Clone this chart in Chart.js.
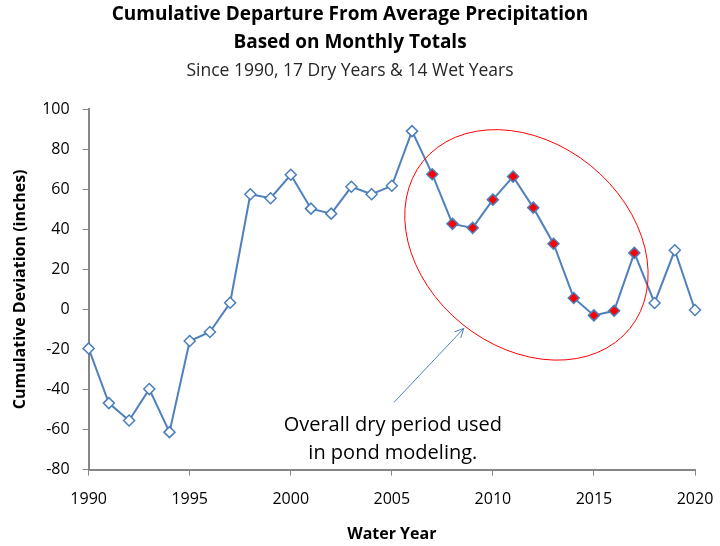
<!DOCTYPE html>
<html>
<head>
<meta charset="utf-8">
<script src="https://cdn.jsdelivr.net/npm/chart.js@4"></script>
<style>
  html, body { margin: 0; padding: 0; background: #fff; }
  #wrap { width: 720px; height: 546px; }
</style>
</head>
<body>
<div id="wrap"><canvas id="myChart"></canvas></div>
<script>
// water years and cumulative departure (inches)
const years = [1990, 1991, 1992, 1993, 1994, 1995, 1996, 1997, 1998, 1999,
  2000, 2001, 2002, 2003, 2004, 2005, 2006, 2007, 2008, 2009,
  2010, 2011, 2012, 2013, 2014, 2015, 2016, 2017, 2018, 2019, 2020];
const departure = [-19.5, -46.8, -55.5, -39.8, -61.3, -15.8, -11.3, 3.3, 57.5, 55.5,
  67.2, 50.3, 47.8, 61.2, 57.5, 61.7, 89, 67.5, 42.7, 40.7,
  54.8, 66.3, 50.8, 32.8, 5.7, -3, -0.7, 28.2, 3.2, 29.5, -0.3];
// years highlighted as the dry period used in pond modeling
const dryPeriod = [2007, 2008, 2009, 2010, 2011, 2012, 2013, 2014, 2015, 2016, 2017];
const xTicks = [1990, 1995, 2000, 2005, 2010, 2015, 2020];
const yTicks = [-80, -60, -40, -20, 0, 20, 40, 60, 80, 100];

const points = years.map((yr, i) => ({ x: yr, y: departure[i] }));
const fills = years.map(yr => dryPeriod.includes(yr) ? "#ff0000" : "#ffffff");

const axisGray = "#868686";
const font = "'Open Sans', 'Noto Sans', sans-serif";

// red ellipse, arrow and note drawn on top of the plot
const notes = {
  id: "notes",
  afterDraw(chart) {
    const { ctx, scales: { x, y } } = chart;
    ctx.save();

    // ellipse around the dry period
    const cx = x.getPixelForValue(2011.66);
    const cy = y.getPixelForValue(32.2);
    ctx.strokeStyle = "#ff0000";
    ctx.lineWidth = 1;
    ctx.beginPath();
    ctx.ellipse(cx, cy, 133, 102, 0.68, 0, Math.PI * 2);
    ctx.stroke();

    // arrow pointing at the ellipse
    const x1 = x.getPixelForValue(2005.1), y1 = y.getPixelForValue(-46.5);
    const x2 = x.getPixelForValue(2008.56), y2 = y.getPixelForValue(-9.5);
    ctx.strokeStyle = "#4f81bd";
    ctx.beginPath();
    ctx.moveTo(x1, y1);
    ctx.lineTo(x2, y2);
    const a = Math.atan2(y2 - y1, x2 - x1);
    ctx.moveTo(x2, y2);
    ctx.lineTo(x2 - 10 * Math.cos(a - 0.45), y2 - 10 * Math.sin(a - 0.45));
    ctx.moveTo(x2, y2);
    ctx.lineTo(x2 - 10 * Math.cos(a + 0.45), y2 - 10 * Math.sin(a + 0.45));
    ctx.stroke();

    ctx.fillStyle = "#000";
    ctx.font = "20px " + font;
    ctx.textAlign = "center";
    ctx.textBaseline = "middle";
    const tx = x.getPixelForValue(2005.05);
    ctx.fillText("Overall dry period used", tx, y.getPixelForValue(-58));
    ctx.fillText("in pond modeling.", tx, y.getPixelForValue(-72));
    ctx.restore();
  }
};

document.addEventListener("DOMContentLoaded", () => {
  const ctx = document.getElementById("myChart");
  new Chart(ctx, {
    type: "line",
    data: {
      datasets: [{
        data: points,
        borderColor: "#4f81bd",
        borderWidth: 2,
        pointStyle: "rectRot",
        pointRadius: 5.5,
        pointBorderWidth: 1.5,
        pointBorderColor: "#4a7ebb",
        pointBackgroundColor: fills,
        tension: 0,
        clip: false
      }]
    },
    options: {
      responsive: true,
      maintainAspectRatio: false,
      animation: false,
      layout: { padding: { left: 5, right: 25, top: 0, bottom: 2 } },
      plugins: {
        legend: { display: false },
        tooltip: { enabled: false },
        title: {
          display: true,
          text: ["Cumulative Departure From Average Precipitation", "Based on Monthly Totals"],
          color: "#000",
          font: { family: font, size: 19, weight: "bold", lineHeight: 1.45 },
          padding: { top: 1, bottom: 2 }
        },
        subtitle: {
          display: true,
          text: "Since 1990, 17 Dry Years & 14 Wet Years",
          color: "#262626",
          font: { family: font, size: 17.5 },
          padding: { top: 2, bottom: 28 }
        }
      },
      scales: {
        x: {
          type: "linear",
          min: 1990,
          max: 2020,
          afterBuildTicks: axis => { axis.ticks = xTicks.map(v => ({ value: v })); },
          // let the layout padding alone decide the right edge of the plot
          afterFit: axis => { axis.paddingRight = 0; },
          grid: { display: true, drawOnChartArea: false, drawTicks: true, tickLength: 6, color: axisGray },
          border: { color: axisGray, width: 2 },
          ticks: { color: "#000", font: { family: font, size: 16 }, padding: 14, callback: v => String(v) },
          title: { display: true, text: "Water Year", color: "#000", font: { family: font, size: 16, weight: "bold" }, padding: { top: 2, bottom: 0 } }
        },
        y: {
          min: -80,
          max: 100,
          afterBuildTicks: axis => { axis.ticks = yTicks.map(v => ({ value: v })); },
          grid: { display: true, drawOnChartArea: false, drawTicks: true, tickLength: 6, color: axisGray },
          border: { color: axisGray, width: 2 },
          ticks: { color: "#000", font: { family: font, size: 16 }, padding: 13 },
          title: { display: true, text: "Cumulative Deviation (inches)", color: "#000", font: { family: font, size: 16, weight: "bold" }, padding: { top: 6, bottom: -1 } }
        }
      }
    },
    plugins: [notes]
  });
});
</script>
</body>
</html>
